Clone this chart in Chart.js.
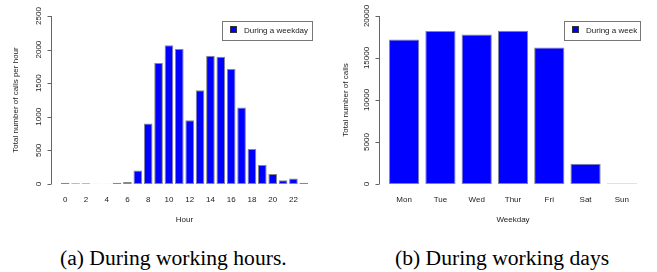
<!DOCTYPE html>
<html>
<head>
<meta charset="utf-8">
<script src="https://cdn.jsdelivr.net/npm/chart.js@4/dist/chart.umd.min.js"></script>
<style>
  body { margin: 0; background: #fff; }
  #page { position: relative; width: 657px; height: 272px; overflow: hidden; }
  canvas { position: absolute; top: 0; }
  .legend { position: absolute; border: 1px solid #777; box-sizing: border-box; height: 20px;
            font: 8px "Liberation Sans", Arial, sans-serif; color: #222; line-height: 18px; white-space: nowrap; }
  .legend i { display: inline-block; width: 5px; height: 5px; background: #0000ff; border: 1px solid #333;
              margin: 0 7px 0 7px; vertical-align: 0px; }
  .caption { position: absolute; top: 247px; font: 21.6px "Liberation Serif", "Times New Roman", serif;
             line-height: 22px; color: #000; white-space: nowrap; }
</style>
</head>
<body>
<div id="page">
  <canvas id="hourChart" width="330" height="232" style="left:0"></canvas>
  <canvas id="dayChart" width="327" height="232" style="left:330px"></canvas>
  <div class="legend" style="left:222px; top:21px; width:91px"><i></i>During a weekday</div>
  <div class="legend" style="left:564px; top:21px; width:77px"><i></i>During a week</div>
  <div class="caption" style="left:60px">(a) During working hours.</div>
  <div class="caption" style="left:395px">(b) During working days</div>
</div>
<script>
const hours = ['0','1','2','3','4','5','6','7','8','9','10','11','12','13','14','15','16','17','18','19','20','21','22','23'];
const hourCalls = [20, 10, 10, 5, 5, 20, 30, 200, 900, 1800, 2065, 2010, 950, 1395, 1910, 1895, 1710, 1140, 520, 282, 150, 55, 80, 20];
const hourTicks = [0, 500, 1000, 1500, 2000, 2500];

const days = ['Mon', 'Tue', 'Wed', 'Thur', 'Fri', 'Sat', 'Sun'];
const dayCalls = [17200, 18200, 17800, 18250, 16250, 2400, 50];
const dayTicks = [0, 5000, 10000, 15000, 20000];

const textColor = '#222';
const tickFont = { family: '"Liberation Sans", Arial, sans-serif', size: 8 };

// base-R style axis: detached y axis with rotated labels, plus axis titles
const rAxes = {
  id: 'rAxes',
  afterDraw(chart, args, o) {
    const { ctx, chartArea: a, scales: { y } } = chart;
    const ax = Math.round(a.left - o.gap) + 0.5;
    ctx.save();
    ctx.strokeStyle = '#666';
    ctx.lineWidth = 1;
    ctx.beginPath();
    ctx.moveTo(ax, y.getPixelForValue(o.ticks[o.ticks.length - 1]));
    ctx.lineTo(ax, y.getPixelForValue(o.ticks[0]));
    o.ticks.forEach(v => {
      const py = Math.round(y.getPixelForValue(v)) + 0.5;
      ctx.moveTo(ax - 4, py);
      ctx.lineTo(ax, py);
    });
    ctx.stroke();

    ctx.fillStyle = textColor;
    ctx.font = '8px "Liberation Sans", Arial, sans-serif';
    ctx.textAlign = 'center';
    ctx.textBaseline = 'middle';
    o.ticks.forEach(v => {
      ctx.save();
      ctx.translate(ax - 13, y.getPixelForValue(v));
      ctx.rotate(-Math.PI / 2);
      ctx.fillText(String(v), 0, 0);
      ctx.restore();
    });

    ctx.save();
    ctx.translate(16, (a.top + a.bottom) / 2);
    ctx.rotate(-Math.PI / 2);
    ctx.fillText(o.yTitle, 0, 0);
    ctx.restore();

    ctx.fillText(o.xTitle, (a.left + a.right) / 2, a.bottom + 36);
    ctx.restore();
  }
};

function makeChart(id, labels, values, ticks, pad, gap, xTitle, yTitle, showLabel) {
  return new Chart(document.getElementById(id), {
    type: 'bar',
    data: {
      labels: labels,
      datasets: [{
        data: values,
        backgroundColor: '#0000ff',
        borderColor: '#888',
        borderWidth: 1,
        borderSkipped: false,
        barPercentage: 1 / 1.2,
        categoryPercentage: 1
      }]
    },
    options: {
      responsive: false,
      animation: false,
      layout: { padding: pad },
      plugins: {
        legend: { display: false },
        tooltip: { enabled: false },
        rAxes: { ticks: ticks, gap: gap, xTitle: xTitle, yTitle: yTitle }
      },
      scales: {
        x: {
          grid: { display: false, drawTicks: false },
          border: { display: false },
          ticks: {
            color: textColor,
            font: tickFont,
            padding: 11,
            autoSkip: false,
            maxRotation: 0,
            callback: function (v, i) { return showLabel(i) ? this.getLabelForValue(v) : ''; }
          },
          afterFit: s => { s.height = 48; }
        },
        y: {
          display: false,
          min: ticks[0],
          max: ticks[ticks.length - 1]
        }
      }
    },
    plugins: [rAxes]
  });
}

makeChart('hourChart', hours, hourCalls, hourTicks,
  { left: 60, right: 21, top: 16, bottom: 0 }, 9,
  'Hour', 'Total number of calls per hour', i => i % 2 === 0);

makeChart('dayChart', days, dayCalls, dayTicks,
  { left: 56, right: 17, top: 16, bottom: 0 }, 7,
  'Weekday', 'Total number of calls', () => true);
</script>
</body>
</html>
